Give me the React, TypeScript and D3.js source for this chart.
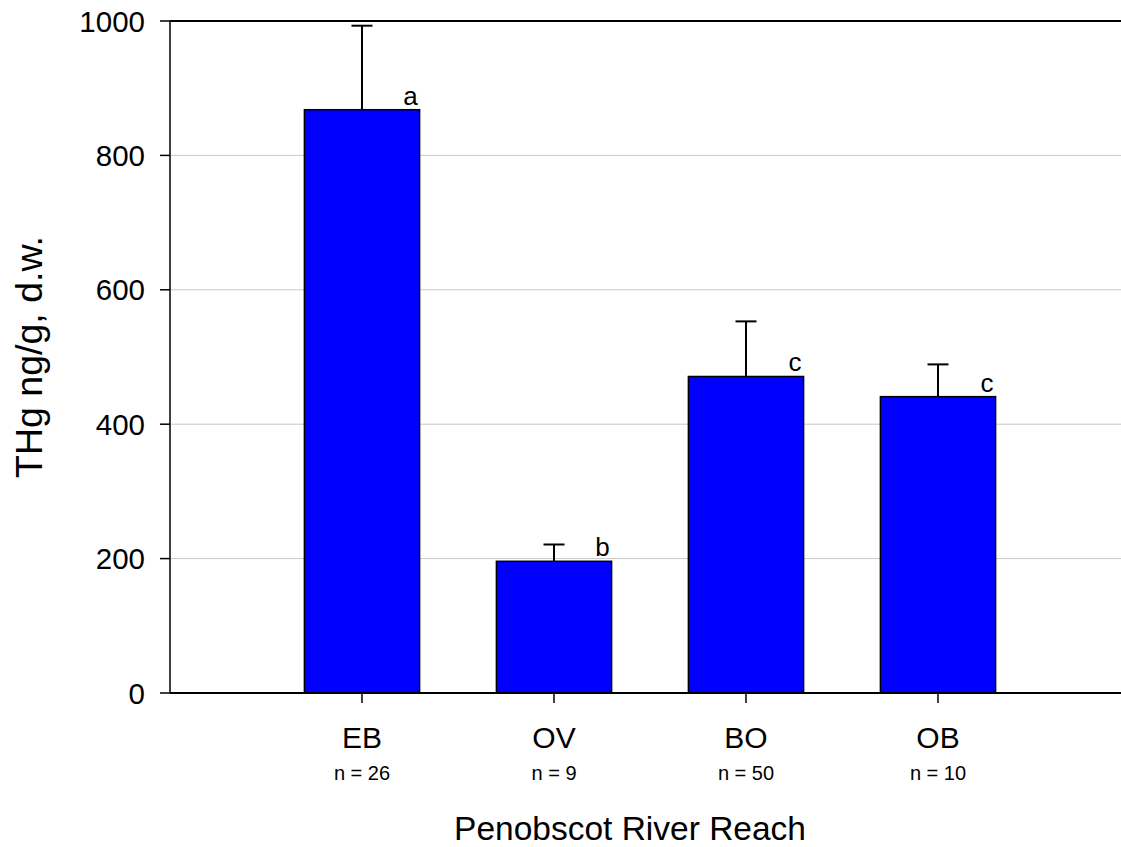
import React from "react";
import * as d3 from "d3";

// Penobscot River reaches with mean total mercury and upper error (SE)
const reaches = ["EB", "OV", "BO", "OB"];
const sampleSizes = [26, 9, 50, 10];
const meanTHg = [868, 196, 471, 441];
const errorTop = [993, 221, 553, 489];
const groupLetters = ["a", "b", "c", "c"];
const yTicks = [0, 200, 400, 600, 800, 1000];

const W = 1121;
const H = 847;
const plotLeft = 170;
const plotRight = 1130;
const plotTop = 21;
const plotBottom = 693;
const font = "Arial, 'Liberation Sans', Helvetica, sans-serif";

export default function App() {
  // slots 0..5: categories sit at 1..4
  const x = d3.scaleLinear().domain([0, reaches.length + 1]).range([plotLeft, plotRight]);
  const y = d3.scaleLinear().domain([0, 1000]).range([plotBottom, plotTop]);
  const step = x(1) - x(0);
  const barW = step * 0.6;
  const capW = 21;

  return (
    <svg
      width={W}
      height={H}
      style={{ position: "absolute", left: 0, top: 0, background: "#fff" }}
      fontFamily={font}
    >
      <rect x={0} y={0} width={W} height={H} fill="#fff" />

      {/* grid lines */}
      {yTicks
        .filter((t) => t > 0 && t < 1000)
        .map((t) => (
          <line key={"g" + t} x1={plotLeft} x2={plotRight} y1={y(t)} y2={y(t)} stroke="#c8c8c8" strokeWidth={1} />
        ))}

      {/* bars, error bars and group letters */}
      {reaches.map((r, i) => {
        const cx = x(i + 1);
        const top = y(meanTHg[i]);
        const eTop = y(errorTop[i]);
        return (
          <g key={r}>
            <line x1={cx} x2={cx} y1={top} y2={eTop} stroke="#000" strokeWidth={2} />
            <line x1={cx - capW / 2} x2={cx + capW / 2} y1={eTop} y2={eTop} stroke="#000" strokeWidth={2} />
            <rect
              x={cx - barW / 2}
              y={top}
              width={barW}
              height={y(0) - top}
              fill="#0000ff"
              stroke="#000"
              strokeWidth={1.5}
            />
            <text x={cx + barW / 2 - 2} y={top - 5} textAnchor="end" fontSize={26} fill="#000">
              {groupLetters[i]}
            </text>
          </g>
        );
      })}

      {/* frame: top, left, bottom */}
      <line x1={plotLeft} x2={plotRight} y1={plotTop} y2={plotTop} stroke="#000" strokeWidth={2} />
      <line x1={plotLeft} x2={plotLeft} y1={plotTop} y2={plotBottom} stroke="#000" strokeWidth={1.5} />
      <line x1={plotLeft} x2={plotRight} y1={plotBottom} y2={plotBottom} stroke="#000" strokeWidth={2} />

      {/* y axis ticks and labels */}
      {yTicks.map((t) => (
        <g key={"y" + t}>
          <line x1={plotLeft - 10} x2={plotLeft} y1={y(t)} y2={y(t)} stroke="#000" strokeWidth={1.5} />
          <text x={145} y={y(t)} dy="0.36em" textAnchor="end" fontSize={29.5} fill="#000">
            {t}
          </text>
        </g>
      ))}

      {/* x axis ticks and labels */}
      {reaches.map((r, i) => {
        const cx = x(i + 1);
        return (
          <g key={"x" + r}>
            <line x1={cx} x2={cx} y1={plotBottom} y2={plotBottom + 10} stroke="#000" strokeWidth={1.5} />
            <text x={cx} y={748} textAnchor="middle" fontSize={30} fill="#000">
              {r}
            </text>
            <text x={cx} y={780} textAnchor="middle" fontSize={20} fill="#000">
              {`n = ${sampleSizes[i]}`}
            </text>
          </g>
        );
      })}

      {/* axis titles */}
      <text x={630} y={840} textAnchor="middle" fontSize={33.5} fill="#000">
        Penobscot River Reach
      </text>
      <text
        transform="translate(42,357) rotate(-90)"
        textAnchor="middle"
        fontSize={37.5}
        fill="#000"
      >
        THg ng/g, d.w.
      </text>
    </svg>
  );
}
